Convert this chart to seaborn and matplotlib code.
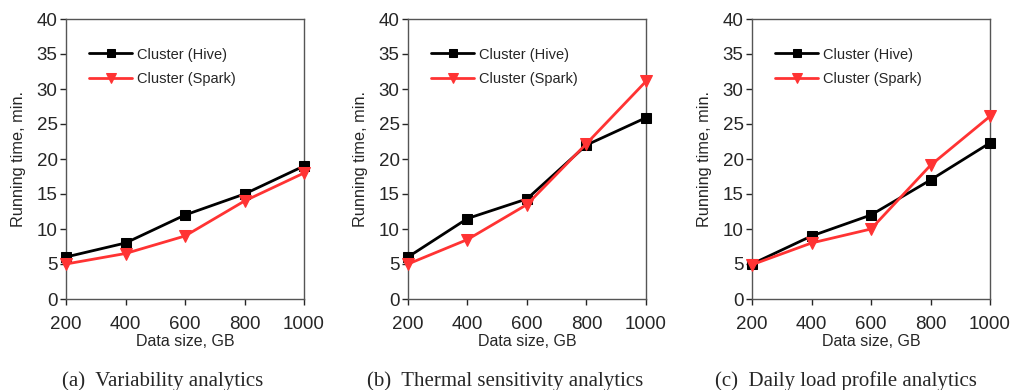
#!/usr/bin/env python3
#
# Running time of Hive vs Spark cluster jobs for three analytics
#
import numpy as np
import matplotlib
matplotlib.use('Agg')
import matplotlib.pyplot as plt
import seaborn as sns
import pandas as pd

# Data
sizes = [200, 400, 600, 800, 1000]
series = ['Cluster (Hive)', 'Cluster (Spark)']

hive_var = [6, 8, 12, 15, 19]
spark_var = [5, 6.5, 9, 14, 18]

hive_thermal = [6, 11.5, 14.3, 22, 25.9]
spark_thermal = [5, 8.5, 13.5, 22.2, 31.1]

hive_daily = [5, 9, 12, 17, 22.3]
spark_daily = [4.9, 8, 10, 19.1, 26.1]

captions = [
    '(a)  Variability analytics',
    '(b)  Thermal sensitivity analytics',
    '(c)  Daily load profile analytics',
]

sns.set_style('white')
plt.rcParams['font.family'] = ['Liberation Sans', 'DejaVu Sans']

colors = {'Cluster (Hive)': 'black', 'Cluster (Spark)': '#ff3333'}
markers = {'Cluster (Hive)': 's', 'Cluster (Spark)': 'v'}

fig = plt.figure(figsize=(10.11, 3.9), dpi=100)
lefts = [66, 408, 752]
caption_x = [163, 505, 846]
width = 238
panels = [
    (hive_var, spark_var),
    (hive_thermal, spark_thermal),
    (hive_daily, spark_daily),
]

for i, (hive, spark) in enumerate(panels):
    ax = fig.add_axes([lefts[i] / 1011, 1 - 299 / 390, width / 1011, 280 / 390])
    df = pd.DataFrame({
        'size': sizes * 2,
        'time': hive + spark,
        'series': [series[0]] * 5 + [series[1]] * 5,
    })
    for name in series:
        sub = df[df['series'] == name]
        sns.lineplot(data=sub, x='size', y='time', ax=ax, color=colors[name],
                     marker=markers[name], markersize=7 if name == series[0] else 8,
                     markeredgecolor=colors[name], linewidth=2, label=name,
                     clip_on=False, zorder=3)

    ax.set_xlim(200, 1000)
    ax.set_ylim(0, 40)
    ax.set_xticks(sizes)
    ax.set_yticks(range(0, 41, 5))
    ax.tick_params(axis='both', labelsize=13.5, direction='out', length=4,
                   width=1, left=True, bottom=True, pad=2)
    ax.tick_params(axis='x', pad=8)
    for s in ax.spines.values():
        s.set_color('#555555')
        s.set_linewidth(1)
    ax.set_xlabel('Data size, GB', fontsize=11.5, labelpad=1)
    ax.set_ylabel('Running time, min.', fontsize=11.7)
    ax.yaxis.set_label_coords(-0.17, 0.5)

    leg = ax.legend(loc='upper left', frameon=False, fontsize=10.5,
                    bbox_to_anchor=(0.04, 0.945), handlelength=3.0,
                    labelspacing=0.75, handletextpad=0.3, markerscale=0.85)

    fig.text(caption_x[i] / 1011, 1 - 381 / 390, captions[i],
             ha='center', va='center', fontsize=15,
             family=['Liberation Serif', 'DejaVu Serif'])

plt.savefig('out.png', dpi=100)
